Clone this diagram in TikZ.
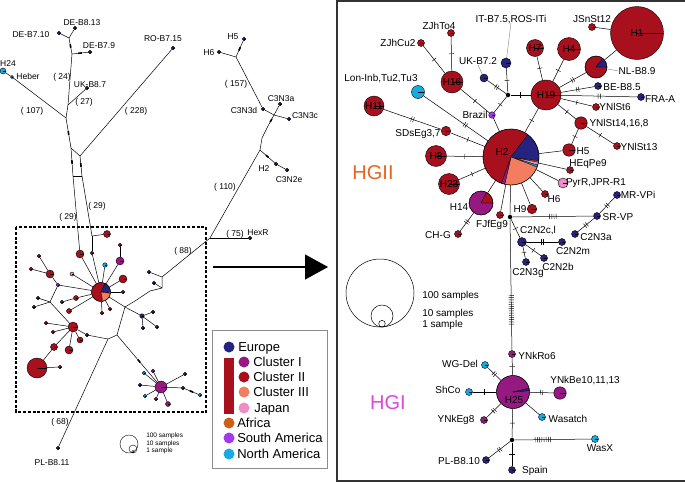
\documentclass[tikz,border=0pt]{standalone}
\usepackage{fontspec}
\setmainfont{Liberation Sans}
\usetikzlibrary{arrows.meta,decorations.markings}
\definecolor{eur}{RGB}{38,34,128}
\definecolor{clI}{RGB}{150,25,130}
\definecolor{clII}{RGB}{168,16,30}
\definecolor{clIII}{RGB}{245,125,95}
\definecolor{jap}{RGB}{240,140,200}
\definecolor{afr}{RGB}{205,95,25}
\definecolor{sam}{RGB}{165,55,240}
\definecolor{nam}{RGB}{25,170,225}
\definecolor{hgii}{RGB}{232,100,30}
\definecolor{hgi}{RGB}{222,70,222}
% one wedge of a pie: centre, from, to, radius, colour
\newcommand{\hslice}[5]{\filldraw[fill=#5,draw=black,line width=0.3pt] (#1) -- ++(#2:#4) arc[start angle=#2,end angle=#3,radius=#4] -- cycle;}
\tikzset{
  mutat/.style 2 args={postaction={decorate,decoration={markings,mark=at position #2 with {\foreach \k in {1,...,#1}{\draw[line width=0.45pt] ({(\k-(#1+1)/2)*2.2pt},-2.6pt) -- ++(0,5.2pt);}}}}},
  mut/.style={mutat={#1}{0.5}},
  blob/.style={postaction={decorate,decoration={markings,mark=at position #1 with {\draw[line width=1.6pt] (-1.8pt,0) -- (1.8pt,0);}}}}
}
\begin{document}
\begin{tikzpicture}[x=1pt,y=-1pt,line width=0.5pt]
\tikzstyle{hap}=[circle,draw=black,line width=0.4pt,inner sep=0pt,font=\fontsize{10}{10}\selectfont,path picture={\draw[line width=0.4pt] (path picture bounding box.center) -- (path picture bounding box.east);}]
\tikzstyle{pie}=[circle,draw=black,line width=0.4pt,inner sep=0pt]
\tikzstyle{eu}=[hap,fill=eur]
\tikzstyle{cI}=[hap,fill=clI]
\tikzstyle{cII}=[hap,fill=clII]
\tikzstyle{jp}=[hap,fill=jap]
\tikzstyle{sa}=[hap,fill=sam]
\tikzstyle{na}=[hap,fill=nam]
\tikzstyle{dt}=[minimum size=3.5pt]
\tikzstyle{sm}=[minimum size=7pt]
\tikzstyle{jn}=[circle,fill=black,inner sep=0pt,minimum size=4.5pt]
\tikzstyle{lbl}=[inner sep=0pt,font=\fontsize{10}{10}\selectfont,text height=7.2pt,text depth=0pt]
\tikzstyle{lbs}=[inner sep=0pt,font=\fontsize{8.5}{9}\selectfont,text height=6.1pt,text depth=0pt]
\tikzstyle{key}=[inner sep=0pt,anchor=west,font=\fontsize{13}{13}\selectfont,text height=9.4pt,text depth=0pt]
\tikzstyle{dotkey}=[circle,inner sep=0pt,minimum size=11pt]
\tikzstyle{lead}=[gray,line width=0.4pt]
\useasboundingbox (0,0) rectangle (685,482);

% ---------- left: whole network ----------
\coordinate (j1) at (69,38);
\coordinate (j3) at (72,54);
\coordinate (j4) at (68,105);
\coordinate (j5) at (66,118);
\coordinate (j6) at (71,148);
\coordinate (j7) at (80,156);
\coordinate (jx1) at (73,176);
\coordinate (jx2) at (82,176);
\coordinate (j8) at (92,236);
\coordinate (j9) at (236,57);
\coordinate (j11) at (274,115);
\coordinate (j12) at (268,126);
\coordinate (j13) at (262,138);
\coordinate (j14) at (260,150);
\coordinate (j15) at (210,238);
\coordinate (j16) at (162,277);
\coordinate (j17) at (162,288);
\coordinate (j18) at (150,291);
\coordinate (j19) at (135,301);
\coordinate (jF) at (125,307);
\coordinate (jD) at (117,335);
\coordinate (jPL) at (108,339);
\coordinate (jL2) at (50,302);

\node[eu,dt] (DEB710) at (59,33) {} edge (j1);
\node[eu,dt] (DEB813) at (75,28) {} edge (j1);
\node[eu,dt] (DEB79) at (90,52) {} edge[blob=0.5] (j3);
\node[eu,dt] (UKB87) at (87,88) {} edge (j4);
\node[na,minimum size=6pt] (H24) at (3,71) {};
\node[na,minimum size=3pt] (Heber) at (12,77) {} edge (H24) edge (j5);
\node[eu,dt] (ROB715) at (173,48) {} edge (j7);
\draw[blob=0.5] (j1) -- (j3);
\draw (j3) -- (j4) -- (j5);
\draw[blob=0.5] (j5) -- (j6);
\draw (j6) -- (j7);
\draw[blob=0.5] (j6) -- (jx1);
\draw[blob=0.45] (j7) -- (jx2);
\draw (jx1) -- (jx2);

\node[eu,dt] (H6l) at (219,52) {} edge (j9);
\node[eu,dt] (H5l) at (244,39) {} edge[blob=0.5] (j9);
\node[eu,dt] (C3N3d) at (263,109) {} edge (j9) edge (j11);
\node[eu,dt] (C3N3a) at (280,104) {} edge (j11);
\node[eu,dt] (C3N3c) at (289,119) {} edge (j11);
\node[eu,dt] (H2l) at (276,164) {} edge[blob=0.5] (j14);
\node[eu,dt] (C3N2e) at (287,170) {} edge (H2l);
\node[eu,dt] (HexR) at (250,238) {} edge (j15);
\draw[blob=0.5] (j11) -- (j12);
\draw (j12) -- (j13) -- (j14) -- (j15) -- (j16);

% zoomed part
\coordinate (cA) at (101,292);
\hslice{cA}{80}{295}{9.5}{clII}
\hslice{cA}{-65}{3}{9.5}{eur}
\hslice{cA}{3}{8}{9.5}{jap}
\hslice{cA}{8}{80}{9.5}{clIII}
\node[pie,minimum size=19pt] (A) at (cA) {};
\node[cII,minimum size=8pt] (n1) at (80,254) {} edge (A) edge (jx1);
\node[cII,dt] (n2) at (92,253) {} edge (A) edge (j8);
\node[cII,minimum size=7pt] (n3) at (107,234) {} edge (j8);
\draw (jx2) -- (j8);
\node[cI,minimum size=8pt] (m1) at (120,261) {} edge (A);
\node[cII,dt] (n4) at (120,245) {} edge (m1);
\node[na,minimum size=4.5pt] (c1) at (105,265) {} edge (A);
\node[jp,minimum size=4pt] (p1) at (72,274) {} edge (A);
\node[cII,minimum size=8pt] (n5) at (123,279) {} edge (A);
\node[cII,dt] (n6) at (123,292) {} edge (A);
\node[cII,minimum size=5pt] (n7) at (76,298) {} edge (A);
\node[cII,dt] (n8) at (62,302) {} edge (n7);
\node[cII,minimum size=5pt] (n9) at (69,311) {} edge (A);
\node[cII,dt] (n10) at (102,313) {} edge (A);
\node[cII,dt] (n11) at (110,309) {} edge (A);
\node[sa,dt] (jL1) at (58,285) {} edge (A) edge (jL2);
\node[cII,minimum size=8pt] (n12) at (50,274) {} edge (jL1);
\node[cII,dt] (n13) at (39,256) {} edge (n12);
\node[cII,dt] (n14) at (31,269) {} edge (n12);
\node[eu,dt] (nv1) at (38,298) {} edge (jL2);
\node[eu,dt] (nv2) at (34,307) {} edge (jL2);
\node[cII,minimum size=10pt] (B) at (73,327) {} edge (jL2);
\node[cII,dt] (s1) at (46,323) {} edge (B);
\node[cII,dt] (s2) at (53,332) {} edge (B);
\node[cII,minimum size=7pt] (n15) at (54,347) {} edge (B);
\node[cII,minimum size=8pt] (n16) at (69,350) {} edge (B);
\node[cII,minimum size=6pt] (n17) at (80,340) {} edge (B);
\node[eu,dt] (nv3) at (87,335) {} edge (B) edge (jPL);
\node[cII,minimum size=20pt] (big) at (37,368) {} edge (n15);
\node[cII,dt] (s3) at (60,367) {} edge (big);
\node[eu,dt] (nb1) at (149,272) {} edge (j16);
\node[eu,dt] (nb2) at (154,283) {} edge (j17);
\draw (j16) -- (j17) -- (j18) -- (j19) -- (jF) -- (A);
\node[eu,minimum size=4.5pt] (nb3) at (142,316) {} edge (jF);
\node[eu,dt] (nb4) at (153,312) {} edge (nb3);
\node[eu,dt] (nb5) at (157,327) {} edge (nb3);
\node[eu,dt] (nb6) at (143,328) {} edge (nb3);
\draw (jF) -- (jD) -- (jPL);
\node[cI,minimum size=12pt] (E) at (161,387) {} edge[blob=0.45] (jD);
\node[eu,dt] (e1) at (185,374) {} edge (E);
\node[eu,dt] (e2) at (183,388) {} edge (E);
\node[na,dt] (e3) at (200,395) {} edge[blob=0.5] (e2);
\node[cI,minimum size=5pt] (e4) at (168,404) {} edge (E);
\node[eu,dt] (e5) at (140,385) {} edge (E);
\node[na,dt] (e6) at (144,373) {} edge (E);
\node[na,dt] (e7) at (145,396) {} edge (E);
\node[cI,dt] (e8) at (156,399) {} edge (E);
\node[cI,dt] (e9) at (153,371) {} edge (E);
\node[eu,dt] (PLB811) at (58,448) {} edge (jPL);

\draw[line width=1.1pt,dash pattern=on 3pt off 1.8pt] (16,227) rectangle (206,412);

\node[lbs] (tDEB813) at (82,22) {DE-B8.13};
\node[lbs] (tDEB710) at (31,34) {DE-B7.10};
\node[lbs] (tDEB79) at (99,45) {DE-B7.9};
\node[lbs] (tH24) at (8,63) {H24};
\node[lbs] (tHeber) at (28,76) {Heber};
\node[lbs] (tm24) at (62,76) {( 24)};
\node[lbs] (tUKB87) at (90,84) {UK-B8.7};
\node[lbs] (tm27) at (84,101) {( 27)};
\node[lbs] (tm107) at (32,110) {( 107)};
\node[lbs] (tROB715) at (163,38) {RO-B7.15};
\node[lbs] (tm228) at (136,110) {( 228)};
\node[lbs] (tm29a) at (68,216) {( 29)};
\node[lbs] (tm29b) at (97,205) {( 29)};
\node[lbs] (tH5l) at (233,36) {H5};
\node[lbs] (tH6l) at (209,52) {H6};
\node[lbs] (tm157) at (236,83) {( 157)};
\node[lbs] (tC3N3a) at (281,98) {C3N3a};
\node[lbs] (tC3N3d) at (244,110) {C3N3d};
\node[lbs] (tC3N3c) at (305,115) {C3N3c};
\node[lbs] (tH2l) at (264,168) {H2};
\node[lbs] (tC3N2e) at (289,179) {C3N2e};
\node[lbs] (tm110) at (225,186) {( 110)};
\node[lbs] (tm75) at (235,233) {( 75)};
\node[lbs] (tHexR) at (258,232) {HexR};
\node[lbs] (tm88) at (183,250) {( 88)};
\node[lbs] (tm68) at (60,421) {( 68)};
\node[lbs] (tPLB811) at (52,462) {PL-B8.11};

% small size key
\draw[line width=0.4pt] (129,444) circle[radius=9];
\draw[line width=0.4pt] (133,449) circle[radius=4];
\draw[line width=0.4pt] (133,451.7) circle[radius=1.3];
\node[inner sep=0pt,anchor=west,font=\fontsize{6.5}{7}\selectfont] (k100) at (146,436) {100 samples};
\node[inner sep=0pt,anchor=west,font=\fontsize{6.5}{7}\selectfont] (k10) at (146,443.5) {10 samples};
\node[inner sep=0pt,anchor=west,font=\fontsize{6.5}{7}\selectfont] (k1) at (146,450.5) {1 sample};

% legend
\draw[black!45,line width=0.6pt] (212,330) rectangle (327,468);
\fill[clII] (224,358) rectangle (234,414);
\node[dotkey,fill=eur] (kEu) at (229,347) {};
\node[dotkey,fill=clI] (kCI) at (244,362) {};
\node[dotkey,fill=clII] (kCII) at (244,377) {};
\node[dotkey,fill=clIII] (kCIII) at (244,392) {};
\node[dotkey,fill=jap] (kJp) at (244,408) {};
\node[dotkey,fill=afr] (kAf) at (229,423) {};
\node[dotkey,fill=sam] (kSa) at (229,438) {};
\node[dotkey,fill=nam] (kNa) at (229,454) {};
\node[key] (tkEu) at (238,347) {Europe};
\node[key] (tkCI) at (253,362) {Cluster I};
\node[key] (tkCII) at (253,377) {Cluster II};
\node[key] (tkCIII) at (253,392) {Cluster III};
\node[key] (tkJp) at (254,408) {Japan};
\node[key] (tkAf) at (237,423) {Africa};
\node[key] (tkSa) at (237,438) {South America};
\node[key] (tkNa) at (237,454) {North America};

% arrow to the detail
\coordinate (ar0) at (213,267);
\coordinate (ar1) at (328,267);
\draw[line width=1.3pt,-{Triangle[length=23pt,width=25pt]}] (ar0) -- (ar1);

% ---------- right: detail ----------
\draw[line width=1.2pt,black!80] (685,1) -- (337,1) -- (337,481) -- (685,481);

\node[cII,minimum size=53pt] (H1) at (637,33) {H1};
\node[cII,sm] (JSnSt12) at (592,27) {} edge (H1);
\coordinate (cNL) at (596,67);
\hslice{cNL}{0}{309}{11}{clII}
\hslice{cNL}{-51}{0}{11}{eur}
\node[pie,minimum size=22pt] (NLB89) at (cNL) {} edge (H1);
\node[cII,minimum size=30pt] (H19) at (546,95) {H19} edge[mut=2] (NLB89);
\node[cII,minimum size=17pt] (H7) at (535,48) {H7} edge[mut=1] (H19);
\node[cII,minimum size=23pt] (H4) at (569,49) {H4} edge[mut=1] (H19);
\node[eu,sm] (BEB85) at (598,86) {} edge[mut=2] (H19);
\node[eu,sm] (FRAA) at (641,97) {} edge[mut=2] (H19);
\node[cII,sm] (YNlSt6) at (596,107) {} edge[mut=1] (H19);
\node[cII,minimum size=12.5pt] (YNlSt14) at (581,123) {} edge[mut=1] (H19);
\node[cII,sm] (YNlSt13) at (617,146) {} edge[mut=1] (YNlSt14);

\coordinate (cH2) at (511,157);
\hslice{cH2}{110}{307}{28}{clII}
\hslice{cH2}{-53}{8}{28}{eur}
\hslice{cH2}{8}{11}{28}{afr}
\hslice{cH2}{11}{17}{28}{jap}
\hslice{cH2}{17}{21}{28}{nam}
\hslice{cH2}{21}{103}{28}{clIII}
\hslice{cH2}{103}{110}{28}{clI}
\node[pie,minimum size=56pt] (H2) at (cH2) {} edge[mut=1] (H19);
\node[cII,minimum size=12.5pt] (H5) at (569,150) {} edge (H2) edge[mut=1] (YNlSt14);
\node[cII,sm] (HEqPe9) at (570,170) {} edge (H2);
\node[jp,minimum size=10pt] (PyrR) at (563,183) {} edge (H2);
\node[cII,sm] (H6) at (545,194) {} edge (H2);
\node[cII,minimum size=9.5pt] (H9) at (532,209) {} edge (H2);

\node[jn] (jA) at (508,95) {} edge[mut=1] (H19);
\node[eu,minimum size=10pt] (ITn) at (506,63) {} edge[mut=1] (jA);
\node[eu,minimum size=8pt] (UKB72) at (484,78) {} edge[mut=2] (jA);
\node[sa,minimum size=6.5pt] (Brazil) at (492,115) {} edge[mut=1] (jA) edge (H2);
\node[cII,minimum size=22pt] (H16) at (452,82) {H16} edge[mut=1] (Brazil);
\node[cII,sm] (ZJhTo4) at (451,33) {} edge[mut=1] (H16);
\node[cII,sm] (ZJhCu2) at (421,43) {} edge[mut=1] (H16);
\node[na,minimum size=13pt] (LonInb) at (418,92) {} edge[mutat={2}{0.65}] (H2);
\node[cII,minimum size=9.5pt] (SDsEg) at (446,131) {} edge[mut=1] (H2);
\node[cII,minimum size=20pt] (H11) at (374,106) {H11} edge[mut=2] (SDsEg);
\node[cII,minimum size=21pt] (H8) at (436,156) {H8} edge[mut=1] (H2);
\node[cII,minimum size=21pt] (H23) at (449,184) {H23} edge[mut=1] (H2);
\coordinate (cH14) at (481,203);
\hslice{cH14}{0}{297}{12}{clI}
\hslice{cH14}{-63}{0}{12}{clII}
\node[pie,minimum size=24pt] (H14) at (cH14) {} edge (H2);
\node[cII,sm] (CHG) at (458,234) {} edge[mut=2] (H14);
\node[cII,sm] (FJfEg9) at (500,215) {} edge (H2);

\node[jn] (jB) at (510,217) {} edge (H2);
\node[eu,sm] (SRVP) at (597,216) {} edge[mut=4] (jB);
\node[eu,sm] (MRVPi) at (617,195) {} edge[mut=2] (SRVP);
\node[eu,sm] (C2N3a) at (575,234) {} edge[mut=2] (SRVP);
\node[eu,minimum size=9pt] (C2N2c) at (522,242) {} edge[mut=1] (jB);
\node[eu,sm] (C2N2m) at (562,242) {} edge[mut=2] (C2N2c);
\node[eu,sm] (C2N2b) at (544,258) {} edge[mut=1] (C2N2c);
\node[eu,sm] (C2N3g) at (526,262) {} edge[mut=1] (C2N2c);
\node[cI,sm] (YNkRo6) at (512,354) {} edge[mutat={14}{0.31}] (jB);

\coordinate (cH25) at (513,392);
\hslice{cH25}{-5}{347}{16.5}{clI}
\hslice{cH25}{-13}{-5}{16.5}{eur}
\node[pie,minimum size=33pt] (H25) at (cH25) {} edge[mut=1] (YNkRo6);
\node[na,sm] (WGDel) at (485,365) {} edge[mut=2] (H25);
\node[na,sm] (ShCo) at (469,392) {} edge[mut=1] (H25);
\node[cI,sm] (YNkEg8) at (484,420) {} edge[mut=2] (H25);
\node[cI,minimum size=12.5pt] (YNkBe) at (560,393) {} edge[mut=2] (H25);
\node[na,sm] (Wasatch) at (542,417) {} edge (H25);
\node[jn] (jC) at (512,440) {} edge[mut=1] (H25);
\node[na,sm] (WasX) at (595,439) {} edge[mutat={8}{0.63}] (jC);
\node[eu,sm] (PLB810) at (486,460) {} edge[mut=2] (jC);
\node[eu,sm] (Spain) at (512,470) {} edge[mut=1] (jC);

\node[lbl] (tJSnSt12) at (592,19) {JSnSt12};
\node[lbl] (tITn) at (511,19) {IT-B7.5,ROS-ITi};
\node[lbl] (tZJhTo4) at (439,26) {ZJhTo4};
\node[lbl] (tZJhCu2) at (398,43) {ZJhCu2};
\node[lbl] (tUKB72) at (478,61) {UK-B7.2};
\node[lbl] (tLonInb) at (381,78) {Lon-Inb,Tu2,Tu3};
\node[lbl] (tBrazil) at (475,115) {Brazil};
\node[lbl] (tSDsEg) at (418,133) {SDsEg3,7};
\node[lbl] (tNLB89) at (637,71) {NL-B8.9};
\node[lbl] (tBEB85) at (622,87) {BE-B8.5};
\node[lbl] (tFRAA) at (660,99) {FRA-A};
\node[lbl] (tYNlSt6) at (615,107) {YNlSt6};
\node[lbl] (tYNlSt14) at (619,123) {YNlSt14,16,8};
\node[lbl] (tYNlSt13) at (639,147) {YNlSt13};
\node[lbl] (tH5) at (583,151) {H5};
\node[lbl] (tHEqPe9) at (588,163) {HEqPe9};
\node[lbl] (tPyrR) at (596,182) {PyrR,JPR-R1};
\node[lbl] (tH6) at (554,199) {H6};
\node[lbl] (tMRVPi) at (638,195) {MR-VPi};
\node[lbl] (tSRVP) at (618,217) {SR-VP};
\node[lbl] (tC2N3a) at (596,237) {C2N3a};
\node[lbl] (tC2N2c) at (538,230) {C2N2c,l};
\node[lbl] (tC2N2m) at (573,251) {C2N2m};
\node[lbl] (tC2N2b) at (558,267) {C2N2b};
\node[lbl] (tC2N3g) at (528,272) {C2N3g};
\node[lbl] (tH9) at (520,209) {H9};
\node[lbl] (tFJfEg9) at (492,224) {FJfEg9};
\node[lbl] (tH14) at (459,207) {H14};
\node[lbl] (tCHG) at (438,235) {CH-G};
\node[lbl] (tH2) at (502,152) {H2};
\node[lbl] (tH25) at (514,400) {H25};
\node[lbl] (tYNkRo6) at (537,356) {YNkRo6};
\node[lbl] (tWGDel) at (460,364) {WG-Del};
\node[lbl] (tYNkBe) at (585,380) {YNkBe10,11,13};
\node[lbl] (tShCo) at (448,390) {ShCo};
\node[lbl] (tYNkEg8) at (456,419) {YNkEg8};
\node[lbl] (tWasatch) at (568,419) {Wasatch};
\node[lbl] (tWasX) at (600,448) {WasX};
\node[lbl] (tPLB810) at (459,461) {PL-B8.10};
\node[lbl] (tSpain) at (535,470) {Spain};
\draw[lead] (tITn.south) -- (ITn);
\draw[lead] (tUKB72.south) -- (UKB72);
\draw[lead] (NLB89) -- (tNLB89.west);

\node[inner sep=0pt,font=\fontsize{20}{20}\selectfont,text=hgii,text height=14.4pt,text depth=0pt] (tHGII) at (373,172) {HGII};
\node[inner sep=0pt,font=\fontsize{20}{20}\selectfont,text=hgi,text height=14.4pt,text depth=0pt] (tHGI) at (388,402) {HGI};

% size key
\draw[line width=0.5pt] (380,293) circle[radius=34];
\draw[line width=0.5pt] (382,316) circle[radius=11];
\draw[line width=0.5pt] (382,323.7) circle[radius=3.3];
\node[lbl,anchor=west] (t100) at (422,295) {100 samples};
\node[lbl,anchor=west] (t10) at (422,313) {10 samples};
\node[lbl,anchor=west] (t1) at (422,324) {1 sample};
\end{tikzpicture}
\end{document}
